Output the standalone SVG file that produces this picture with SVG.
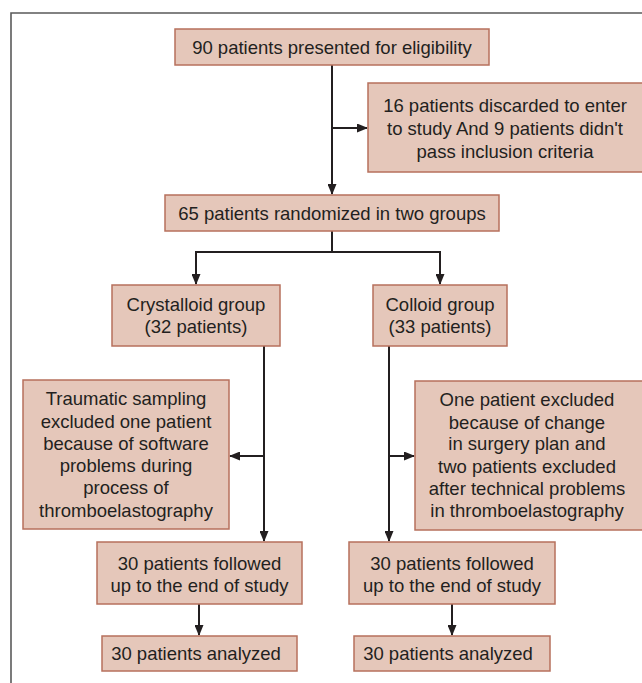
<svg xmlns="http://www.w3.org/2000/svg" width="642" height="683" viewBox="0 0 642 683">
<style>
.box{fill:#e5c7ba;stroke:#b7705c;stroke-width:1.5}
.t{font-family:"Liberation Sans",Arial,sans-serif;font-size:18.5px;fill:#231f20;text-anchor:middle}
.c{fill:none;stroke:#231f20;stroke-width:2}
.frame{fill:none;stroke:#5a5a5a;stroke-width:1.6}
</style>
<defs>
<marker id="ah" markerUnits="userSpaceOnUse" markerWidth="11" markerHeight="9" refX="10" refY="4.5" orient="auto">
<path d="M0,0 L11,4.5 L0,9 z" fill="#231f20"/>
</marker>
</defs>
<rect width="642" height="683" fill="#ffffff"/>
<path class="frame" d="M11,690 L11,13 L650,13"/>
<g id="connectors">
<path class="c" d="M332,65 L332,194" marker-end="url(#ah)"/>
<path class="c" d="M332,128 L367,128" marker-end="url(#ah)"/>
<path class="c" d="M332,231 L332,252"/>
<path class="c" d="M196,284 L196,252 L440,252 L440,284" marker-end="url(#ah)"/>
<path class="c" d="M196,252 L196,284" marker-end="url(#ah)"/>
<path class="c" d="M264,346 L264,541" marker-end="url(#ah)"/>
<path class="c" d="M264,456 L230,456" marker-end="url(#ah)"/>
<path class="c" d="M389,346 L389,541" marker-end="url(#ah)"/>
<path class="c" d="M389,456 L414,456" marker-end="url(#ah)"/>
<path class="c" d="M199,604 L199,635" marker-end="url(#ah)"/>
<path class="c" d="M452,604 L452,635" marker-end="url(#ah)"/>
</g>
<g id="n1">
<rect class="box" x="175" y="29" width="314" height="36"/>
<text class="t" x="332" y="54">90 patients presented for eligibility</text>
</g>
<g id="n2">
<rect class="box" x="368" y="83" width="280" height="89"/>
<text class="t" x="505" y="112">16 patients discarded to enter</text>
<text class="t" x="505" y="135">to study And 9 patients didn't</text>
<text class="t" x="505" y="158">pass inclusion criteria</text>
</g>
<g id="n3">
<rect class="box" x="165" y="195" width="334" height="36"/>
<text class="t" x="332" y="220">65 patients randomized in two groups</text>
</g>
<g id="n4">
<rect class="box" x="112" y="285" width="168" height="61"/>
<text class="t" x="196" y="311">Crystalloid group</text>
<text class="t" x="196" y="333">(32 patients)</text>
</g>
<g id="n5">
<rect class="box" x="373" y="285" width="134" height="61"/>
<text class="t" x="440" y="311">Colloid group</text>
<text class="t" x="440" y="333">(33 patients)</text>
</g>
<g id="n6">
<rect class="box" x="23" y="380" width="206" height="149"/>
<text class="t" x="126" y="405">Traumatic sampling</text>
<text class="t" x="126" y="427.5">excluded one patient</text>
<text class="t" x="126" y="450">because of software</text>
<text class="t" x="126" y="472">problems during</text>
<text class="t" x="126" y="494">process of</text>
<text class="t" x="126" y="517">thromboelastography</text>
</g>
<g id="n7">
<rect class="box" x="415" y="381" width="233" height="149"/>
<text class="t" x="527" y="406">One patient excluded</text>
<text class="t" x="527" y="428.5">because of change</text>
<text class="t" x="527" y="450">in surgery plan and</text>
<text class="t" x="527" y="473">two patients excluded</text>
<text class="t" x="527" y="495">after technical problems</text>
<text class="t" x="527" y="517">in thromboelastography</text>
</g>
<g id="n8">
<rect class="box" x="97" y="542" width="205" height="62"/>
<text class="t" x="199.5" y="570">30 patients followed</text>
<text class="t" x="199.5" y="592">up to the end of study</text>
</g>
<g id="n9">
<rect class="box" x="349" y="542" width="206" height="62"/>
<text class="t" x="452" y="570">30 patients followed</text>
<text class="t" x="452" y="592">up to the end of study</text>
</g>
<g id="n10">
<rect class="box" x="102" y="636" width="195" height="35"/>
<text class="t" x="196" y="660">30 patients analyzed</text>
</g>
<g id="n11">
<rect class="box" x="354" y="636" width="196" height="35"/>
<text class="t" x="448" y="660">30 patients analyzed</text>
</g>
</svg>
